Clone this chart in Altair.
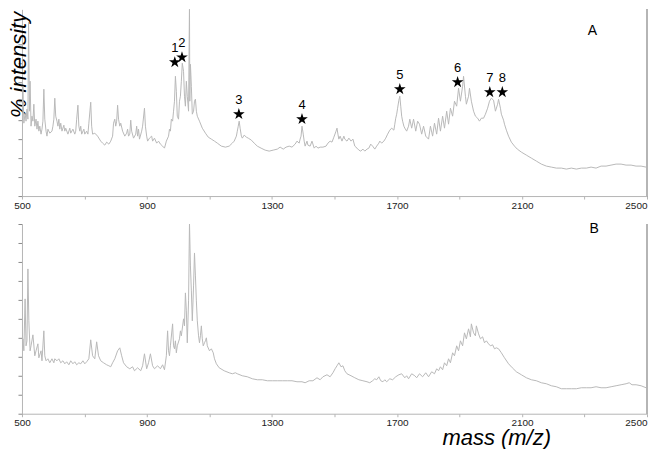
import altair as alt
import pandas as pd

# ---------------- data (m/z, relative intensity units) ----------------
SPEC_A = [
    (500,77),(503,110),(506,73),(510,83),(513,75),(516,87),(519,77),(521,174),(524,85),(526,115),
    (529,70),(532,80),(535,75),(538,92),(541,70),(545,77),(548,67),(551,75),(554,65),(557,70),
    (561,62),(564,67),(567,75),(570,107),(573,77),(577,65),(580,60),(583,67),(589,63),(596,65),
    (599,70),(602,77),(605,98),(608,80),(612,75),(615,70),(618,77),(621,67),(624,73),(628,65),
    (634,71),(637,65),(640,68),(647,62),(653,68),(656,63),(663,67),(669,62),(672,65),(675,77),
    (679,91),(682,70),(685,65),(688,70),(691,62),(698,67),(701,62),(707,65),(711,62),(714,73),
    (720,94),(723,70),(726,62),(733,63),(742,60),(752,55),(758,53),(765,51),(771,54),(778,52),
    (784,55),(790,60),(793,73),(797,77),(800,70),(803,75),(806,91),(809,77),(813,70),(816,73),
    (822,65),(829,60),(835,63),(838,67),(841,60),(845,62),(848,76),(851,65),(857,58),(864,62),
    (867,70),(870,60),(873,67),(876,57),(883,65),(886,70),(892,88),(895,70),(899,60),(902,55),
    (908,58),(915,60),(918,55),(924,58),(931,53),(937,55),(943,52),(950,50),(956,48),(962,55),
    (969,60),(972,67),(975,65),(978,77),(982,75),(985,85),(988,95),(991,120),(994,105),(997,80),
    (1001,77),(1004,95),(1007,100),(1010,115),(1013,133),(1017,125),(1020,100),(1023,90),(1026,115),(1029,100),
    (1033,85),(1036,193),(1037,95),(1039,132),(1042,110),(1045,82),(1049,85),(1052,95),(1055,97),(1058,85),
    (1061,80),(1068,75),(1077,68),(1087,63),(1096,59),(1106,57),(1116,55),(1125,53),(1138,50),(1151,49),
    (1163,50),(1173,53),(1179,55),(1186,60),(1189,65),(1192,70),(1195,75),(1198,68),(1202,60),(1205,58),
    (1211,61),(1218,59),(1224,58),(1234,56),(1243,53),(1253,50),(1265,48),(1278,46),(1291,45),(1304,46),
    (1317,47),(1326,49),(1336,47),(1345,49),(1355,50),(1364,49),(1374,52),(1380,55),(1387,53),(1390,57),
    (1393,60),(1396,70),(1400,62),(1403,55),(1406,50),(1412,55),(1415,51),(1422,50),(1428,55),(1435,48),
    (1441,50),(1447,48),(1454,49),(1463,49),(1473,50),(1479,53),(1486,55),(1492,54),(1498,59),(1505,65),
    (1508,68),(1511,62),(1514,57),(1518,60),(1524,55),(1530,60),(1533,57),(1540,55),(1546,58),(1553,55),
    (1559,57),(1565,50),(1572,48),(1578,46),(1584,45),(1591,47),(1597,45),(1604,47),(1610,48),(1616,52),
    (1622,50),(1629,47),(1635,50),(1642,53),(1645,55),(1651,53),(1658,55),(1664,58),(1670,62),(1677,66),
    (1683,68),(1690,66),(1693,72),(1696,78),(1699,82),(1702,88),(1706,96),(1709,100),(1712,90),(1715,80),
    (1718,75),(1722,70),(1725,68),(1731,65),(1737,70),(1741,77),(1747,68),(1753,77),(1760,65),(1766,75),
    (1772,72),(1779,62),(1785,70),(1792,60),(1801,57),(1807,70),(1814,60),(1820,73),(1827,62),(1833,78),
    (1839,65),(1846,80),(1852,68),(1859,85),(1865,72),(1871,88),(1878,80),(1884,95),(1891,90),(1897,108),
    (1903,95),(1910,110),(1913,120),(1919,100),(1922,92),(1929,100),(1932,108),(1938,95),(1945,85),(1951,80),
    (1958,78),(1964,75),(1970,78),(1977,78),(1983,82),(1990,88),(1996,95),(2002,98),(2009,96),(2015,85),
    (2022,92),(2025,97),(2031,88),(2034,82),(2041,76),(2044,72),(2050,66),(2057,60),(2066,54),(2076,50),
    (2085,47),(2098,44),(2114,41),(2130,38),(2146,35),(2162,32),(2178,30),(2194,29),(2210,28),(2226,28),
    (2242,27),(2258,28),(2274,27),(2290,28),(2306,28),(2321,29),(2337,28),(2353,30),(2369,30),(2385,31),
    (2401,32),(2417,32),(2433,31),(2449,31),(2465,30),(2481,30),(2497,29),(2500,29),
]

SPEC_B = [
    (500,53),(503,75),(506,63),(510,115),(513,68),(516,73),(519,145),(522,93),(526,63),(529,68),
    (535,79),(541,58),(545,63),(551,70),(554,56),(561,63),(564,53),(570,83),(573,58),(577,53),
    (583,55),(589,51),(596,55),(602,51),(605,55),(612,53),(618,55),(624,51),(631,53),(637,50),
    (643,52),(650,49),(656,53),(663,50),(669,52),(675,49),(682,51),(688,50),(695,53),(701,50),
    (707,52),(714,55),(720,74),(726,58),(733,55),(739,72),(745,58),(752,53),(761,51),(771,49),
    (778,48),(784,47),(790,51),(797,55),(806,63),(813,66),(819,58),(825,51),(835,47),(845,45),
    (854,47),(860,43),(870,46),(880,43),(886,48),(892,60),(899,45),(905,51),(911,60),(918,48),
    (924,45),(934,48),(943,45),(950,49),(956,44),(962,58),(966,83),(969,63),(972,58),(975,68),
    (982,90),(985,68),(988,65),(991,73),(994,61),(997,68),(1004,75),(1007,83),(1010,78),(1017,95),
    (1020,88),(1023,121),(1026,103),(1029,71),(1033,113),(1036,191),(1039,148),(1042,123),(1045,93),(1049,128),
    (1052,161),(1055,138),(1058,113),(1061,93),(1065,78),(1068,71),(1071,78),(1074,88),(1077,75),(1080,68),
    (1084,71),(1087,73),(1090,76),(1093,68),(1100,63),(1106,65),(1112,61),(1116,55),(1122,50),(1131,46),
    (1147,43),(1163,41),(1173,40),(1183,41),(1189,40),(1205,38),(1221,37),(1237,35),(1253,34),(1269,34),
    (1285,33),(1301,33),(1317,33),(1333,33),(1349,33),(1364,33),(1380,32),(1396,32),(1406,31),(1419,33),
    (1431,33),(1444,36),(1454,34),(1463,37),(1476,39),(1486,37),(1495,41),(1502,45),(1508,48),(1514,51),
    (1521,47),(1527,48),(1533,43),(1540,40),(1553,38),(1565,36),(1578,34),(1591,33),(1604,32),(1613,31),
    (1622,33),(1629,35),(1635,34),(1642,37),(1648,33),(1655,32),(1661,34),(1667,32),(1677,35),(1686,34),
    (1696,37),(1706,39),(1715,40),(1725,36),(1731,38),(1737,35),(1747,40),(1757,38),(1763,36),(1772,40),
    (1782,37),(1792,41),(1801,37),(1811,42),(1820,40),(1827,45),(1833,43),(1839,47),(1846,44),(1852,51),
    (1859,48),(1865,55),(1871,51),(1878,61),(1884,58),(1891,68),(1897,63),(1903,73),(1910,68),(1916,81),
    (1922,75),(1929,85),(1935,77),(1938,90),(1945,81),(1951,78),(1954,88),(1961,80),(1967,75),(1974,77),
    (1980,71),(1986,73),(1993,70),(1999,68),(2006,69),(2012,65),(2018,66),(2025,65),(2034,61),(2044,56),
    (2057,50),(2069,46),(2082,42),(2098,39),(2114,36),(2130,34),(2146,33),(2162,31),(2178,30),(2194,28),
    (2210,27),(2226,25),(2242,25),(2258,25),(2274,25),(2290,26),(2306,26),(2321,26),(2337,27),(2353,26),
    (2369,26),(2385,27),(2401,28),(2417,29),(2433,30),(2443,31),(2452,29),(2465,29),(2481,28),(2497,26),
    (2500,26),
]

STAR_MZ = [989, 1012, 1194, 1396, 1709, 1894, 1997, 2037]
STAR_INT = [134, 139, 82, 77, 107, 114, 104, 104]
STAR_LABEL = ["1", "2", "3", "4", "5", "6", "7", "8"]

PANEL_LABEL = ["A", "B"]
PANEL_MZ = [2325, 2331]
PANEL_INT = [165, 185]

X_TICKS = list(range(500, 2501, 200))
Y_TICKS_A = list(range(0, 172, 19))
Y_TICKS_B = list(range(0, 191, 19))
X_DOMAIN = [500, 2500]
Y_DOMAIN_A = [0, 187]
Y_DOMAIN_B = [0, 190]

# ---------------- styling ----------------
FONT = "Liberation Sans"
LINE_COLOR = "#b9b9b9"
AXIS_COLOR = "#b5b5b5"
W = 626
STAR_PATH = ("M0,-1L0.2245,-0.309L0.951,-0.309L0.363,0.118L0.588,0.809L0,0.382"
             "L-0.588,0.809L-0.363,0.118L-0.951,-0.309L-0.2245,-0.309Z")

dfA = pd.DataFrame(SPEC_A, columns=["mz", "intensity"])
dfB = pd.DataFrame(SPEC_B, columns=["mz", "intensity"])
dfStars = pd.DataFrame({"mz": STAR_MZ, "intensity": STAR_INT, "label": STAR_LABEL})
dfPanel = pd.DataFrame({"mz": PANEL_MZ, "intensity": PANEL_INT, "label": PANEL_LABEL})


def x_axis(title=None):
    kw = dict(
        values=X_TICKS,
        format="d",
        labelExpr="(datum.value - 500) % 400 == 0 ? datum.label : ''",
        labelFont=FONT, labelFontSize=10, labelColor="#222",
        labelFlush=False,
        labelAlign={"condition": {"test": "datum.value == 2500", "value": "right"}, "value": "center"},
        labelPadding=1,
        tickSize=3, tickColor=AXIS_COLOR, domainColor=AXIS_COLOR,
        grid=False,
    )
    if title:
        kw.update(
            title=title, titleFont=FONT, titleFontSize=22, titleFontStyle="italic",
            titleFontWeight="normal", titleColor="#000",
            titleX=475, titleY=31, titleAlign="center", titleBaseline="alphabetic",
        )
    else:
        kw.update(title=None)
    return alt.Axis(**kw)


def y_axis(values, title=None):
    kw = dict(
        values=values, labels=False, tickSize=4, tickColor="#8a8a8a",
        domainColor=AXIS_COLOR, grid=False,
    )
    if title:
        kw.update(
            title=title, titleFont=FONT, titleFontSize=22, titleFontStyle="italic",
            titleFontWeight="normal", titleColor="#000", titleAngle=270,
            titleAlign="right", titleBaseline="top", titleX=-13, titleY=2,
        )
    else:
        kw.update(title=None)
    return alt.Axis(**kw)


def panel(df, ydom, yticks, panel_idx, xtitle=None, ytitle=None, stars=False, height=190):
    xs = alt.Scale(domain=X_DOMAIN, nice=False, zero=False)
    ys = alt.Scale(domain=ydom, nice=False, zero=False)
    X = alt.X("mz:Q", scale=xs, axis=x_axis(xtitle))
    Y = alt.Y("intensity:Q", scale=ys, axis=y_axis(yticks, ytitle))
    line = alt.Chart(df).mark_line(color=LINE_COLOR, strokeWidth=1, clip=True).encode(x=X, y=Y)
    border = alt.Chart(df).mark_rule(color=AXIS_COLOR, strokeWidth=1).encode(
        x=alt.datum(X_DOMAIN[1], scale=xs, axis=x_axis(xtitle))
    )
    letter = alt.Chart(dfPanel.iloc[[panel_idx]]).mark_text(
        font=FONT, fontSize=14, color="#000", baseline="middle", align="center"
    ).encode(x=X, y=Y, text="label:N")
    layers = [line, border, letter]
    if stars:
        pts = alt.Chart(dfStars).mark_point(
            shape=STAR_PATH, filled=True, color="#000", size=150, opacity=1
        ).encode(x=X, y=Y)
        lab = alt.Chart(dfStars).mark_text(
            font=FONT, fontSize=13, color="#000", baseline="middle", align="center", dy=-14
        ).encode(x=X, y=Y, text="label:N")
        layers += [pts, lab]
    return alt.layer(*layers).properties(width=W, height=height)


top = panel(dfA, Y_DOMAIN_A, Y_TICKS_A, 0, ytitle="% intensity", stars=True, height=187)
bottom = panel(dfB, Y_DOMAIN_B, Y_TICKS_B, 1, xtitle="mass (m/z)", height=190)

chart = alt.vconcat(top, bottom, spacing=28, bounds="flush").properties(
    padding={"left": 0, "top": 0, "right": 0, "bottom": 0},
    background="white",
).configure_view(stroke=None)

chart.save("out.html", embed_options={"renderer": "svg", "actions": False})
